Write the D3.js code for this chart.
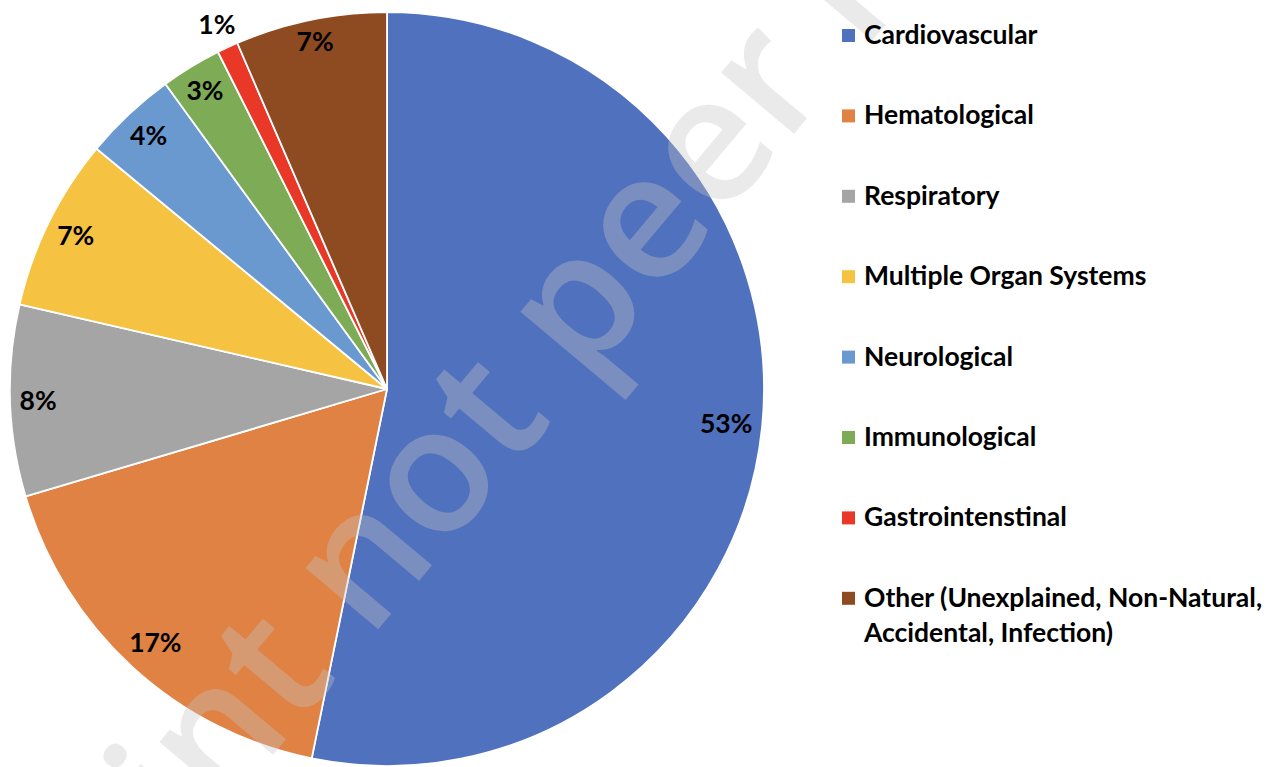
<!DOCTYPE html>
<html>
<head>
<meta charset="utf-8">
<script src="https://cdn.jsdelivr.net/npm/d3@7"></script>
<style>
  body { margin: 0; background: #fff; }
  svg { display: block; }
</style>
</head>
<body>
<div id="chart"></div>
<script>
// data (percent of deaths per system)
var categories = ["Cardiovascular", "Hematological", "Respiratory", "Multiple Organ Systems",
                  "Neurological", "Immunological", "Gastrointenstinal",
                  "Other (Unexplained, Non-Natural, Accidental, Infection)"];
var shares = [53.2, 17.2, 8.2, 7.4, 4.0, 2.6, 0.9, 6.5];
var colors = ["#5071be", "#e08244", "#a5a5a5", "#f5c242", "#6a99d0", "#7eab55", "#e93728", "#8e4b22"];
// legend lines (last entry wraps in two lines)
var legendLines = [["Cardiovascular"], ["Hematological"], ["Respiratory"], ["Multiple Organ Systems"],
                   ["Neurological"], ["Immunological"], ["Gastrointenstinal"],
                   ["Other (Unexplained, Non-Natural,", "Accidental, Infection)"]];

var width = 1287, height = 767;
var cx = 387, cy = 389, R = 377;
var fontSize = 26.5;
var font = "Lato, 'Open Sans', sans-serif";

var svg = d3.select("#chart").append("svg")
  .attr("width", width)
  .attr("height", height);

var pie = d3.pie().sort(null).value(d => d);
var arc = d3.arc().innerRadius(0).outerRadius(R);
var arcs = pie(shares);

var g = svg.append("g").attr("transform", "translate(" + cx + "," + cy + ")");

g.selectAll("path.slice")
  .data(arcs)
  .enter().append("path")
  .attr("class", "slice")
  .attr("d", arc)
  .attr("fill", (d, i) => colors[i])
  .attr("stroke", "#fff")
  .attr("stroke-width", 1.8)
  .attr("stroke-linejoin", "round");

// watermark
var wm = svg.append("text")
  .attr("font-family", "'Open Sans', sans-serif")
  .attr("font-weight", 600)
  .attr("font-size", 176)
  .attr("fill", "#c6c6c6")
  .attr("fill-opacity", 0.36)
  .text("Preprint not peer reviewed");
var off = wm.node().getSubStringLength(0, 13);
wm.attr("x", -off).attr("y", 0)
  .attr("transform", "translate(584,384) rotate(-50)");

// percentage labels, placed like "inside end" (or outside for tiny slices)
var capH = fontSize * 0.36;
var pad = 9;
var lab = g.selectAll("text.pct")
  .data(arcs)
  .enter().append("text")
  .attr("class", "pct")
  .attr("font-family", font)
  .attr("font-weight", "bold")
  .attr("font-size", fontSize)
  .attr("text-anchor", "middle")
  .attr("fill", "#000")
  .text(d => Math.round(d.value) + "%");

lab.each(function(d) {
  var a = (d.startAngle + d.endAngle) / 2;
  var ux = Math.sin(a), uy = -Math.cos(a);
  var hw = this.getComputedTextLength() / 2, hh = capH;
  var outside = d.value < 1.5;
  var sx = ux < 0 ? -1 : 1, sy = uy < 0 ? -1 : 1;
  if (outside) { sx = -sx; sy = -sy; }
  var c = [sx * hw, sy * hh];
  var uc = ux * c[0] + uy * c[1];
  var target = outside ? R + pad : R - pad;
  var r = -uc + Math.sqrt(uc * uc - (c[0] * c[0] + c[1] * c[1]) + target * target);
  d3.select(this)
    .attr("x", r * ux)
    .attr("y", r * uy + hh);
});

// legend
var legend = svg.append("g").attr("transform", "translate(842,0)");
var rowY = d3.scaleLinear().domain([0, 1]).range([35.5, 115.9]);
var row = legend.selectAll("g.row")
  .data(categories)
  .enter().append("g")
  .attr("class", "row")
  .attr("transform", (d, i) => "translate(0," + rowY(i) + ")");

row.append("rect")
  .attr("x", 0).attr("y", -6.5)
  .attr("width", 13).attr("height", 13)
  .attr("fill", (d, i) => colors[i]);

row.append("text")
  .attr("font-family", font)
  .attr("font-weight", "bold")
  .attr("font-size", fontSize)
  .attr("fill", "#000")
  .selectAll("tspan")
  .data((d, i) => legendLines[i])
  .enter().append("tspan")
  .attr("x", 22)
  .attr("y", (d, j) => 8.5 + j * 35.5)
  .text(d => d);
</script>
</body>
</html>
